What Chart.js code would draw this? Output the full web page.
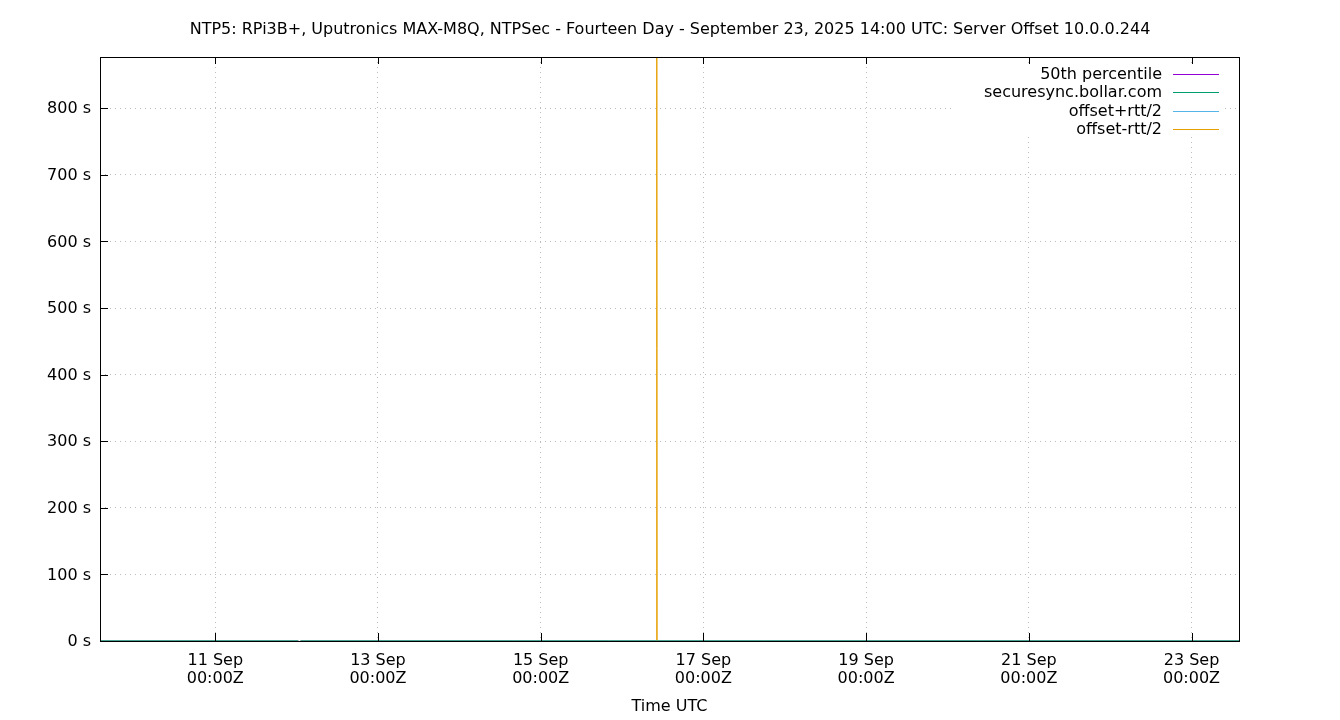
<!DOCTYPE html>
<html>
<head>
<meta charset="utf-8">
<title>NTP5 Server Offset</title>
<script src="https://cdn.jsdelivr.net/npm/chart.js@4.4.1/dist/chart.umd.min.js"></script>
<style>
  html, body { margin: 0; padding: 0; background: #fff; }
  #wrap { width: 1340px; height: 720px; }
</style>
</head>
<body>
<div id="wrap"><canvas id="offsetChart"></canvas></div>
<script>
// Chart texts
const CHART_TITLE = "NTP5: RPi3B+, Uputronics MAX-M8Q, NTPSec - Fourteen Day - September 23, 2025 14:00 UTC: Server Offset 10.0.0.244";
const X_TITLE = "Time UTC";
const MONTHS = ["Jan", "Feb", "Mar", "Apr", "May", "Jun", "Jul", "Aug", "Sep", "Oct", "Nov", "Dec"];

// Series
const SERIES_LABELS = ["50th percentile", "securesync.bollar.com", "offset+rtt/2", "offset-rtt/2"];
const SERIES_COLORS = ["#9400d3", "#009e73", "#56b4e9", "#e69f00"];

// Sample times (UTC), shared by all series
const SAMPLE_TIMES = [
    "2025-09-09T14:00Z", "2025-09-10T12:00Z", "2025-09-11T10:00Z",
    "2025-09-12T00:30Z", "2025-09-12T00:50Z", "2025-09-12T01:10Z",
    "2025-09-13T08:00Z", "2025-09-14T16:00Z", "2025-09-15T20:00Z",
    "2025-09-16T10:10Z", "2025-09-16T10:15Z", "2025-09-16T10:20Z",
    "2025-09-17T18:00Z", "2025-09-19T02:00Z", "2025-09-20T10:00Z",
    "2025-09-21T18:00Z", "2025-09-23T02:00Z", "2025-09-23T14:00Z"
];

// Offsets in seconds (null = no data)
const P50_VALUES = [0.000004, 0.000004, 0.000004, 0.000004, null, 0.000004, 0.000004, 0.000004, 0.000004,
    0.000004, 0.000004, 0.000004, 0.000004, 0.000004, 0.000004, 0.000004, 0.000004, 0.000004];
const SECURESYNC_VALUES = [0.000012, -0.000008, 0.000006, 0.000010, null, -0.000005, 0.000003, 0.000015, -0.000011,
    0.000007, 0.000020, 0.000004, -0.000006, 0.000009, 0.000002, -0.000004, 0.000011, 0.000005];
const PLUS_RTT_VALUES = [0.00041, 0.00038, 0.00044, 0.00040, null, 0.00039, 0.00042, 0.00045, 0.00037,
    0.00040, 0.00043, 0.00041, 0.00039, 0.00042, 0.00040, 0.00038, 0.00041, 0.00040];
const MINUS_RTT_VALUES = [-0.00039, -0.00041, -0.00036, -0.00038, null, -0.00040, -0.00037, -0.00035, -0.00042,
    -0.00038, 880, -0.00039, -0.00041, -0.00036, -0.00039, -0.00042, -0.00038, -0.00040];

// Axes
const X_MIN = "2025-09-09T14:00Z";
const X_MAX = "2025-09-23T14:00Z";
const X_TICKS = ["2025-09-11T00:00Z", "2025-09-13T00:00Z", "2025-09-15T00:00Z", "2025-09-17T00:00Z",
    "2025-09-19T00:00Z", "2025-09-21T00:00Z", "2025-09-23T00:00Z"];
const Y_MIN = 0;
const Y_MAX = 877;
const Y_TICKS = [0, 100, 200, 300, 400, 500, 600, 700, 800];

const FONT = "'DejaVu Sans', sans-serif";
const times = SAMPLE_TIMES.map(t => Date.parse(t));

function toPoints(values) {
    return values.map((v, i) => ({ x: times[i], y: v }));
}

function pad2(n) {
    return (n < 10 ? "0" : "") + n;
}

let seriesValues = [P50_VALUES, SECURESYNC_VALUES, PLUS_RTT_VALUES, MINUS_RTT_VALUES];

// gnuplot style frame, inward ticks, title and key
const gnuplotDecor = {
    id: 'gnuplotDecor',
    afterDraw(chart) {
        const ctx = chart.ctx;
        const area = chart.chartArea;
        const xs = chart.scales.x;
        const ys = chart.scales.y;
        ctx.save();

        // key box (opaque, hides grid)
        ctx.fillStyle = '#fff';
        ctx.fillRect(955, 63, 268, 74);
        ctx.font = "16px " + FONT;
        ctx.textAlign = 'right';
        ctx.textBaseline = 'middle';
        chart.data.datasets.forEach((ds, i) => {
            let y = 74 + i * 18.3;
            ctx.fillStyle = '#000';
            ctx.fillText(ds.label, 1162, y + 1);
            ctx.strokeStyle = ds.borderColor;
            ctx.lineWidth = 1;
            ctx.beginPath();
            ctx.moveTo(1173, Math.round(y) + 0.5);
            ctx.lineTo(1219, Math.round(y) + 0.5);
            ctx.stroke();
        });

        // frame
        ctx.strokeStyle = '#000';
        ctx.lineWidth = 1;
        ctx.strokeRect(area.left + 0.5, area.top + 0.5, area.right - area.left, area.bottom - area.top);

        // inward ticks
        ctx.beginPath();
        xs.ticks.forEach(t => {
            let px = Math.round(xs.getPixelForValue(t.value)) + 0.5;
            ctx.moveTo(px, area.bottom);
            ctx.lineTo(px, area.bottom - 8);
            ctx.moveTo(px, area.top);
            ctx.lineTo(px, area.top + 7);
        });
        ys.ticks.forEach(t => {
            let py = Math.round(ys.getPixelForValue(t.value)) + 0.5;
            ctx.moveTo(area.left, py);
            ctx.lineTo(area.left + 8, py);
        });
        ctx.stroke();

        // titles
        ctx.fillStyle = '#000';
        ctx.textAlign = 'center';
        ctx.textBaseline = 'middle';
        ctx.font = "16px " + FONT;
        ctx.fillText(CHART_TITLE, 670, 30);
        ctx.fillText(X_TITLE, (area.left + area.right) / 2, 707);
        ctx.restore();
    }
};

let offsetChart = new Chart(document.getElementById('offsetChart').getContext('2d'), {
    type: 'line',
    data: {
        datasets: SERIES_LABELS.map((label, i) => ({
            label: label,
            data: toPoints(seriesValues[i]),
            borderColor: SERIES_COLORS[i],
            backgroundColor: SERIES_COLORS[i],
            borderWidth: 1,
            pointRadius: 0,
            tension: 0,
            spanGaps: false,
            order: [3, 0, 1, 2][i]
        }))
    },
    options: {
        responsive: true,
        maintainAspectRatio: false,
        animation: false,
        parsing: false,
        layout: { padding: { top: 57, right: 101, left: 0, bottom: 0 } },
        plugins: {
            legend: { display: false },
            title: { display: false },
            tooltip: { enabled: false }
        },
        scales: {
            x: {
                type: 'linear',
                min: Date.parse(X_MIN),
                max: Date.parse(X_MAX),
                afterBuildTicks: scale => {
                    scale.ticks = X_TICKS.map(t => ({ value: Date.parse(t) }));
                },
                afterFit: scale => { scale.height = 79; },
                grid: { color: '#bdbdbd', lineWidth: 1, drawTicks: false },
                border: { display: false, dash: [1, 4] },
                ticks: {
                    autoSkip: false,
                    maxRotation: 0,
                    padding: 11,
                    color: '#000',
                    font: { family: FONT, size: 16, lineHeight: 1.125 },
                    callback: value => {
                        let d = new Date(value);
                        return [d.getUTCDate() + " " + MONTHS[d.getUTCMonth()],
                            pad2(d.getUTCHours()) + ":" + pad2(d.getUTCMinutes()) + "Z"];
                    }
                }
            },
            y: {
                type: 'linear',
                min: Y_MIN,
                max: Y_MAX,
                afterBuildTicks: scale => {
                    scale.ticks = Y_TICKS.map(v => ({ value: v }));
                },
                afterFit: scale => { scale.width = 100; },
                grid: { color: '#bdbdbd', lineWidth: 1, drawTicks: false },
                border: { display: false, dash: [1, 4] },
                ticks: {
                    padding: 9,
                    labelOffset: 1,
                    color: '#000',
                    font: { family: FONT, size: 16 },
                    callback: value => value + " s"
                }
            }
        }
    },
    plugins: [gnuplotDecor]
});
</script>
</body>
</html>
